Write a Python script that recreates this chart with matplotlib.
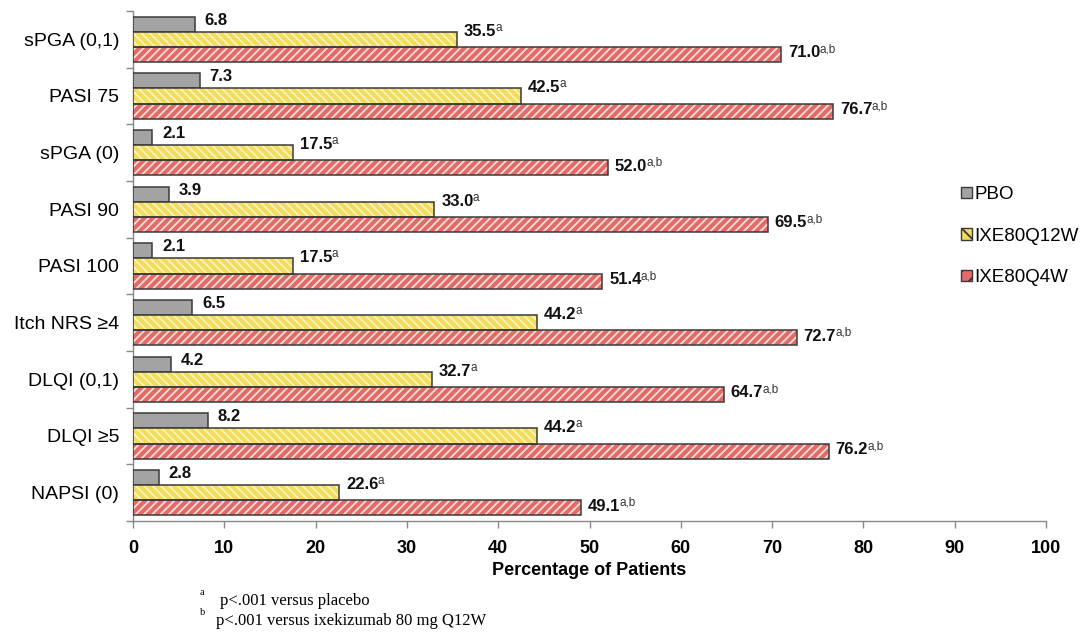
import matplotlib
matplotlib.use("Agg")
import matplotlib.pyplot as plt
from matplotlib.patches import Patch
import numpy as np

plt.rcParams['font.family'] = ['Liberation Sans', 'DejaVu Sans']

categories = ["sPGA (0,1)", "PASI 75", "sPGA (0)", "PASI 90", "PASI 100",
              "Itch NRS \u22654", "DLQI (0,1)", "DLQI \u22655", "NAPSI (0)"]
pbo = [6.8, 7.3, 2.1, 3.9, 2.1, 6.5, 4.2, 8.2, 2.8]
q12w = [35.5, 42.5, 17.5, 33.0, 17.5, 44.2, 32.7, 44.2, 22.6]
q4w = [71.0, 76.7, 52.0, 69.5, 51.4, 72.7, 64.7, 76.2, 49.1]
series_names = ["PBO", "IXE80Q12W", "IXE80Q4W"]
q12w_sup = "a"
q4w_sup = "a,b"
x_ticks = list(range(0, 101, 10))
x_label = "Percentage of Patients"
footnotes = [("a", "p<.001 versus placebo"),
             ("b", "p<.001 versus ixekizumab 80 mg Q12W")]

fig = plt.figure(figsize=(10.86, 6.35), dpi=100)
ax = fig.add_axes([133/1086, 1 - 521/635, (1046-133)/1086, (521-11)/635])

n = len(categories)
y = np.arange(n)
h = 0.265
edge = '#3a3a3a'

# placebo bars
ax.barh(y - h, pbo, height=h, color='#a3a3a3', edgecolor=edge, linewidth=1.1, zorder=3)

# hatched bars: fill + stripes, then a dark outline on top
plt.rcParams['hatch.linewidth'] = 1.3
ax.barh(y, q12w, height=h, color='#f2dc5c', edgecolor='#fbf4bd', linewidth=0,
        hatch='\\\\\\\\', zorder=3)
ax.barh(y, q12w, height=h, color='none', edgecolor=edge, linewidth=1.1, zorder=4)
ax.barh(y + h, q4w, height=h, color='#e46a68', edgecolor='#fbe0dc', linewidth=0,
        hatch='////', zorder=3)
ax.barh(y + h, q4w, height=h, color='none', edgecolor=edge, linewidth=1.1, zorder=4)

# value labels
for i in range(n):
    ax.annotate(f"{pbo[i]:.1f}", xy=(pbo[i], y[i] - h), xytext=(7, 3),
                textcoords='offset points', va='center', ha='left',
                fontsize=12, fontweight='bold', color='#111111')
    t = ax.annotate(f"{q12w[i]:.1f}", xy=(q12w[i], y[i]), xytext=(5, 6),
                    textcoords='offset points', va='center', ha='left',
                    fontsize=12, fontweight='bold', color='#111111')
    ax.annotate(q12w_sup, xy=(1, 0.72), xycoords=t, xytext=(-0.5, 0),
                textcoords='offset points', va='center', ha='left',
                fontsize=8.5, color='#333333')
    t = ax.annotate(f"{q4w[i]:.1f}", xy=(q4w[i], y[i] + h), xytext=(5, 1),
                    textcoords='offset points', va='center', ha='left',
                    fontsize=12, fontweight='bold', color='#111111')
    ax.annotate(q4w_sup, xy=(1, 0.72), xycoords=t, xytext=(-0.5, 0),
                textcoords='offset points', va='center', ha='left',
                fontsize=8.5, color='#333333')

ax.set_ylim(n - 0.5, -0.5)
ax.set_xlim(0, 100)
ax.set_yticks(y)
ax.set_yticklabels(categories, fontsize=14)
ax.set_yticks(np.arange(n + 1) - 0.5, minor=True)
ax.tick_params(axis='y', which='major', length=0, pad=10)
ax.tick_params(axis='y', which='minor', length=5, color='#888888', width=1)
ax.set_xticks(x_ticks)
ax.set_xticklabels([str(v) for v in x_ticks], fontsize=13, fontweight='bold')
ax.tick_params(axis='x', length=5, color='#888888', width=1, pad=9)
ax.set_xlabel(x_label, fontsize=13, fontweight='bold', labelpad=3)

for s in ['top', 'right']:
    ax.spines[s].set_visible(False)
for s in ['left', 'bottom']:
    ax.spines[s].set_color('#888888')
    ax.spines[s].set_linewidth(1)

handles = [
    Patch(facecolor='#a3a3a3', edgecolor=edge, linewidth=1),
    Patch(facecolor='#f2dc5c', edgecolor=edge, hatch='\\\\', linewidth=1),
    Patch(facecolor='#e46a68', edgecolor=edge, hatch='//', linewidth=1),
]
fig.legend(handles, series_names, loc='center left',
           bbox_to_anchor=(952/1086, 1 - 236/635), frameon=False,
           fontsize=13.5, handlelength=0.55, handleheight=0.55,
           handletextpad=0.15, labelspacing=1.3, borderpad=0)

# footnotes
for k, (mark, txt) in enumerate(footnotes):
    yy = 1 - (601 + k * 20) / 635
    fig.text(200/1086, yy + 0.014, mark, fontsize=7.5, family='Liberation Serif',
             va='center', ha='left')
    fig.text((220 - 4 * k)/1086, yy, txt, fontsize=12, family='Liberation Serif',
             va='center', ha='left')

fig.savefig("out.png", dpi=100)
